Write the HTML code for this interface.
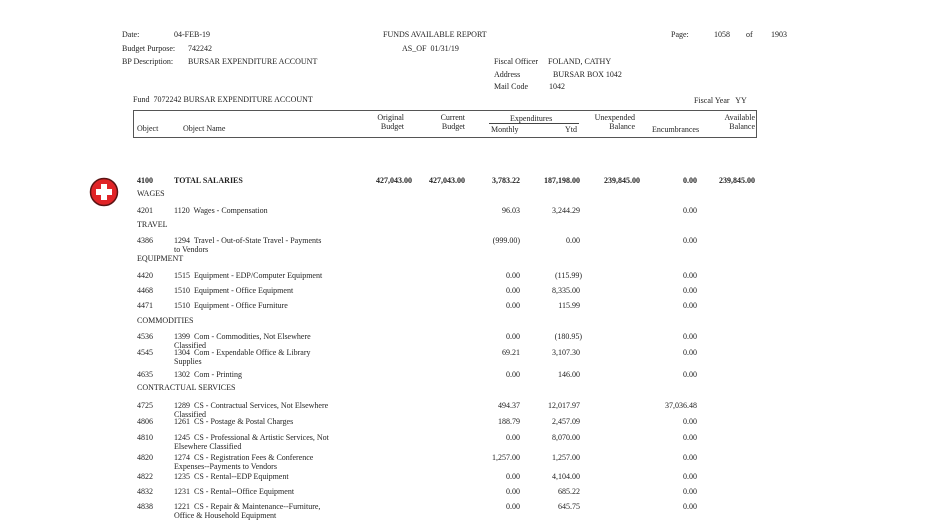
<!DOCTYPE html>
<html><head><meta charset="utf-8"><style>
body{margin:0;width:940px;height:528px;background:#fff;position:relative;overflow:hidden;font-family:"Liberation Serif",serif;font-size:8px;color:#222}
.t{position:absolute;white-space:nowrap;line-height:9px}
.r{position:absolute;white-space:nowrap;line-height:9px;text-align:right;width:80px}
.b{font-weight:bold}
</style></head><body>
<div class="t" style="left:122px;top:30px">Date:</div>
<div class="t" style="left:174px;top:30px">04-FEB-19</div>
<div class="t" style="left:122px;top:44px">Budget Purpose:</div>
<div class="t" style="left:188px;top:44px">742242</div>
<div class="t" style="left:122px;top:57px">BP Description:</div>
<div class="t" style="left:188px;top:57px">BURSAR EXPENDITURE ACCOUNT</div>
<div class="t" style="left:383px;top:30px">FUNDS AVAILABLE REPORT</div>
<div class="t" style="left:402px;top:44px">AS_OF&nbsp; 01/31/19</div>
<div class="t" style="left:671px;top:30px">Page:</div>
<div class="t" style="left:714px;top:30px">1058</div>
<div class="t" style="left:746px;top:30px">of</div>
<div class="t" style="left:771px;top:30px">1903</div>
<div class="t" style="left:494px;top:57px">Fiscal Officer</div>
<div class="t" style="left:548px;top:57px">FOLAND, CATHY</div>
<div class="t" style="left:494px;top:70px">Address</div>
<div class="t" style="left:553px;top:70px">BURSAR BOX 1042</div>
<div class="t" style="left:494px;top:82px">Mail Code</div>
<div class="t" style="left:549px;top:82px">1042</div>
<div class="t" style="left:133px;top:95px">Fund&nbsp; 7072242 BURSAR EXPENDITURE ACCOUNT</div>
<div class="t" style="left:694px;top:96px">Fiscal Year&nbsp;&nbsp; YY</div>
<div style="position:absolute;left:133px;top:110px;width:622px;height:26px;border:1px solid #555"></div>
<div style="position:absolute;left:489px;top:123px;width:90px;border-top:1px solid #444"></div>
<div class="t" style="left:137px;top:124px">Object</div>
<div class="t" style="left:183px;top:124px">Object Name</div>
<div class="r" style="left:324px;top:113px">Original<br>Budget</div>
<div class="r" style="left:385px;top:113px">Current<br>Budget</div>
<div class="t" style="left:510px;top:114px">Expenditures</div>
<div class="t" style="left:491px;top:125px">Monthly</div>
<div class="t" style="left:565px;top:125px">Ytd</div>
<div class="r" style="left:555px;top:113px">Unexpended<br>Balance</div>
<div class="t" style="left:652px;top:125px">Encumbrances</div>
<div class="r" style="left:675px;top:113px">Available<br>Balance</div>
<svg style="position:absolute;left:89px;top:177px" width="30" height="30"><circle cx="15" cy="15" r="13.5" fill="#e02427" stroke="#5a1414" stroke-width="1.5"/><rect x="12" y="7" width="6" height="16" fill="#fff"/><rect x="7" y="12" width="16" height="6" fill="#fff"/></svg>
<div class="t b" style="left:137px;top:176px">4100</div>
<div class="t b" style="left:174px;top:176px">TOTAL SALARIES</div>
<div class="r b" style="left:332px;top:176px">427,043.00</div>
<div class="r b" style="left:385px;top:176px">427,043.00</div>
<div class="r b" style="left:440px;top:176px">3,783.22</div>
<div class="r b" style="left:500px;top:176px">187,198.00</div>
<div class="r b" style="left:560px;top:176px">239,845.00</div>
<div class="r b" style="left:617px;top:176px">0.00</div>
<div class="r b" style="left:675px;top:176px">239,845.00</div>
<div class="t" style="left:137px;top:189px">WAGES</div>
<div class="t" style="left:137px;top:206px">4201</div><div class="t" style="left:174px;top:206px">1120&nbsp; Wages - Compensation</div>
<div class="r" style="left:440px;top:206px">96.03</div><div class="r" style="left:500px;top:206px">3,244.29</div><div class="r" style="left:617px;top:206px">0.00</div>
<div class="t" style="left:137px;top:220px">TRAVEL</div>
<div class="t" style="left:137px;top:236px">4386</div><div class="t" style="left:174px;top:236px">1294&nbsp; Travel - Out-of-State Travel - Payments<br>to Vendors</div>
<div class="r" style="left:440px;top:236px">(999.00)</div><div class="r" style="left:500px;top:236px">0.00</div><div class="r" style="left:617px;top:236px">0.00</div>
<div class="t" style="left:137px;top:254px">EQUIPMENT</div>
<div class="t" style="left:137px;top:271px">4420</div><div class="t" style="left:174px;top:271px">1515&nbsp; Equipment - EDP/Computer Equipment</div>
<div class="r" style="left:440px;top:271px">0.00</div><div class="r" style="left:502px;top:271px">(115.99)</div><div class="r" style="left:617px;top:271px">0.00</div>
<div class="t" style="left:137px;top:286px">4468</div><div class="t" style="left:174px;top:286px">1510&nbsp; Equipment - Office Equipment</div>
<div class="r" style="left:440px;top:286px">0.00</div><div class="r" style="left:500px;top:286px">8,335.00</div><div class="r" style="left:617px;top:286px">0.00</div>
<div class="t" style="left:137px;top:301px">4471</div><div class="t" style="left:174px;top:301px">1510&nbsp; Equipment - Office Furniture</div>
<div class="r" style="left:440px;top:301px">0.00</div><div class="r" style="left:500px;top:301px">115.99</div><div class="r" style="left:617px;top:301px">0.00</div>
<div class="t" style="left:137px;top:316px">COMMODITIES</div>
<div class="t" style="left:137px;top:332px">4536</div><div class="t" style="left:174px;top:332px">1399&nbsp; Com - Commodities, Not Elsewhere<br>Classified</div>
<div class="r" style="left:440px;top:332px">0.00</div><div class="r" style="left:502px;top:332px">(180.95)</div><div class="r" style="left:617px;top:332px">0.00</div>
<div class="t" style="left:137px;top:348px">4545</div><div class="t" style="left:174px;top:348px">1304&nbsp; Com - Expendable Office &amp; Library<br>Supplies</div>
<div class="r" style="left:440px;top:348px">69.21</div><div class="r" style="left:500px;top:348px">3,107.30</div><div class="r" style="left:617px;top:348px">0.00</div>
<div class="t" style="left:137px;top:370px">4635</div><div class="t" style="left:174px;top:370px">1302&nbsp; Com - Printing</div>
<div class="r" style="left:440px;top:370px">0.00</div><div class="r" style="left:500px;top:370px">146.00</div><div class="r" style="left:617px;top:370px">0.00</div>
<div class="t" style="left:137px;top:383px">CONTRACTUAL SERVICES</div>
<div class="t" style="left:137px;top:401px">4725</div><div class="t" style="left:174px;top:401px">1289&nbsp; CS - Contractual Services, Not Elsewhere<br>Classified</div>
<div class="r" style="left:440px;top:401px">494.37</div><div class="r" style="left:500px;top:401px">12,017.97</div><div class="r" style="left:617px;top:401px">37,036.48</div>
<div class="t" style="left:137px;top:417px">4806</div><div class="t" style="left:174px;top:417px">1261&nbsp; CS - Postage &amp; Postal Charges</div>
<div class="r" style="left:440px;top:417px">188.79</div><div class="r" style="left:500px;top:417px">2,457.09</div><div class="r" style="left:617px;top:417px">0.00</div>
<div class="t" style="left:137px;top:433px">4810</div><div class="t" style="left:174px;top:433px">1245&nbsp; CS - Professional &amp; Artistic Services, Not<br>Elsewhere Classified</div>
<div class="r" style="left:440px;top:433px">0.00</div><div class="r" style="left:500px;top:433px">8,070.00</div><div class="r" style="left:617px;top:433px">0.00</div>
<div class="t" style="left:137px;top:453px">4820</div><div class="t" style="left:174px;top:453px">1274&nbsp; CS - Registration Fees &amp; Conference<br>Expenses--Payments to Vendors</div>
<div class="r" style="left:440px;top:453px">1,257.00</div><div class="r" style="left:500px;top:453px">1,257.00</div><div class="r" style="left:617px;top:453px">0.00</div>
<div class="t" style="left:137px;top:472px">4822</div><div class="t" style="left:174px;top:472px">1235&nbsp; CS - Rental--EDP Equipment</div>
<div class="r" style="left:440px;top:472px">0.00</div><div class="r" style="left:500px;top:472px">4,104.00</div><div class="r" style="left:617px;top:472px">0.00</div>
<div class="t" style="left:137px;top:487px">4832</div><div class="t" style="left:174px;top:487px">1231&nbsp; CS - Rental--Office Equipment</div>
<div class="r" style="left:440px;top:487px">0.00</div><div class="r" style="left:500px;top:487px">685.22</div><div class="r" style="left:617px;top:487px">0.00</div>
<div class="t" style="left:137px;top:502px">4838</div><div class="t" style="left:174px;top:502px">1221&nbsp; CS - Repair &amp; Maintenance--Furniture,<br>Office &amp; Household Equipment</div>
<div class="r" style="left:440px;top:502px">0.00</div><div class="r" style="left:500px;top:502px">645.75</div><div class="r" style="left:617px;top:502px">0.00</div>
</body></html>
